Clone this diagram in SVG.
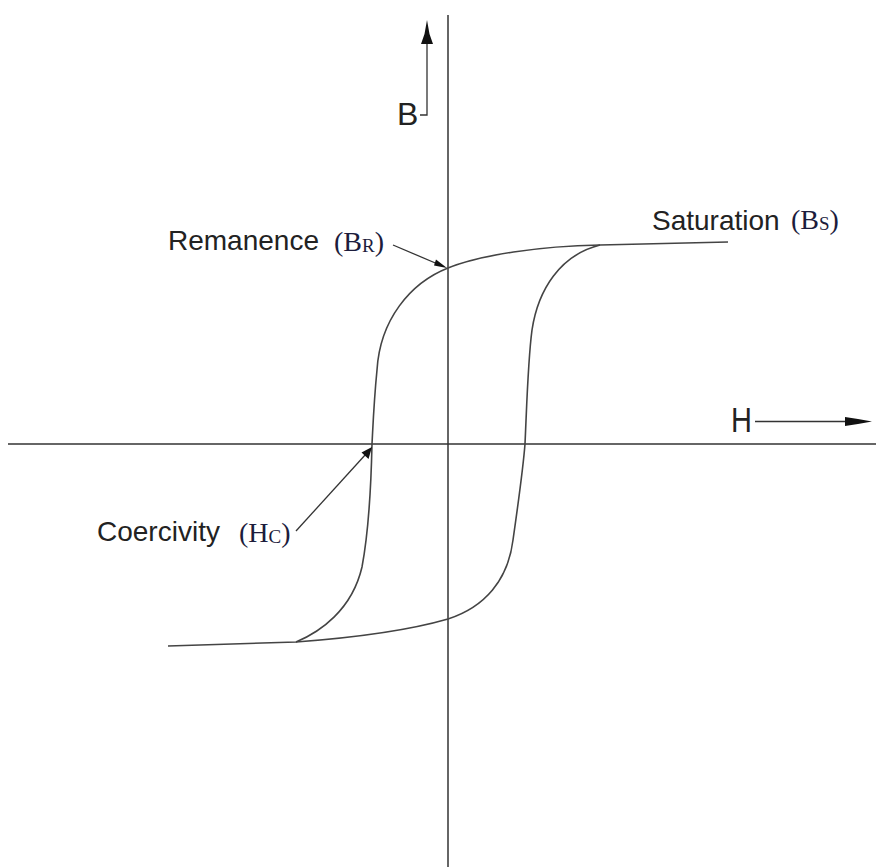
<svg xmlns="http://www.w3.org/2000/svg" width="876" height="867" viewBox="0 0 876 867">
<style>
.ax{stroke:#333;stroke-width:1.5;fill:none}
.cv{stroke:#444;stroke-width:1.6;fill:none}
.ld{stroke:#333;stroke-width:1.3;fill:none}
.lbl{font-family:"Liberation Sans",Arial,sans-serif;font-size:28px;fill:#222}
.sym{font-family:"Liberation Serif","Times New Roman",serif;font-size:28px;fill:#1c1c3c}
.sub{font-size:19px}
</style>
<rect width="876" height="867" fill="#fff"/>
<g id="axes">
<line class="ax" x1="448" y1="15" x2="448" y2="867"/>
<line class="ax" x1="8" y1="444" x2="876" y2="444"/>
</g>
<g id="axis-B">
<polyline class="ld" points="420,115 427,115 427,40"/>
<polygon points="427,20 429.5,34 433,44 421,44 424.5,34" fill="#111"/>
<text x="397" y="125" font-family="Liberation Sans, Arial, sans-serif" font-size="32" fill="#222">B</text>
</g>
<g id="axis-H">
<line class="ld" x1="755" y1="421.5" x2="850" y2="421.5"/>
<polygon points="872,421.5 858,419 845,417 845,426 858,424" fill="#111"/>
<text transform="translate(731,432) scale(1,1.2)" font-family="Liberation Sans, Arial, sans-serif" font-size="29" fill="#222">H</text>
</g>
<g id="loop">
<path class="cv" d="M728,242 L600,245 C540,246 480,255 448,268 C410,283 380,320 377,370 C374,400 373,425 372,444 C371,490 368,535 362,567 C352,610 320,632 296,642 L168,646"/>
<path class="cv" d="M296,642 C350,638 410,630 448,619 C485,607 508,580 513,540 C518,505 523,470 525,444 C527,400 528,360 532,330 C538,290 560,255 600,245"/>
</g>
<g id="connectors">
<line class="ld" x1="393" y1="245" x2="440" y2="265"/>
<polygon points="447,268 434,265.5 436,259.5" fill="#111"/>
<line class="ld" x1="296" y1="531" x2="366" y2="454"/>
<polygon points="372,447 368.5,459 361.5,452.5" fill="#111"/>
</g>
<g id="label-remanence">
<text class="lbl" x="168" y="250">Remanence</text>
<text class="sym" x="334" y="251">(B<tspan class="sub" dy="1">R</tspan><tspan dy="-1">)</tspan></text>
</g>
<g id="label-saturation">
<text class="lbl" x="652" y="230">Saturation</text>
<text class="sym" x="791" y="229">(B<tspan class="sub" dy="1">S</tspan><tspan dy="-1">)</tspan></text>
</g>
<g id="label-coercivity">
<text class="lbl" x="97" y="541">Coercivity</text>
<text class="sym" x="239" y="542">(H<tspan class="sub" dy="1">C</tspan><tspan dy="-1">)</tspan></text>
</g>
</svg>
